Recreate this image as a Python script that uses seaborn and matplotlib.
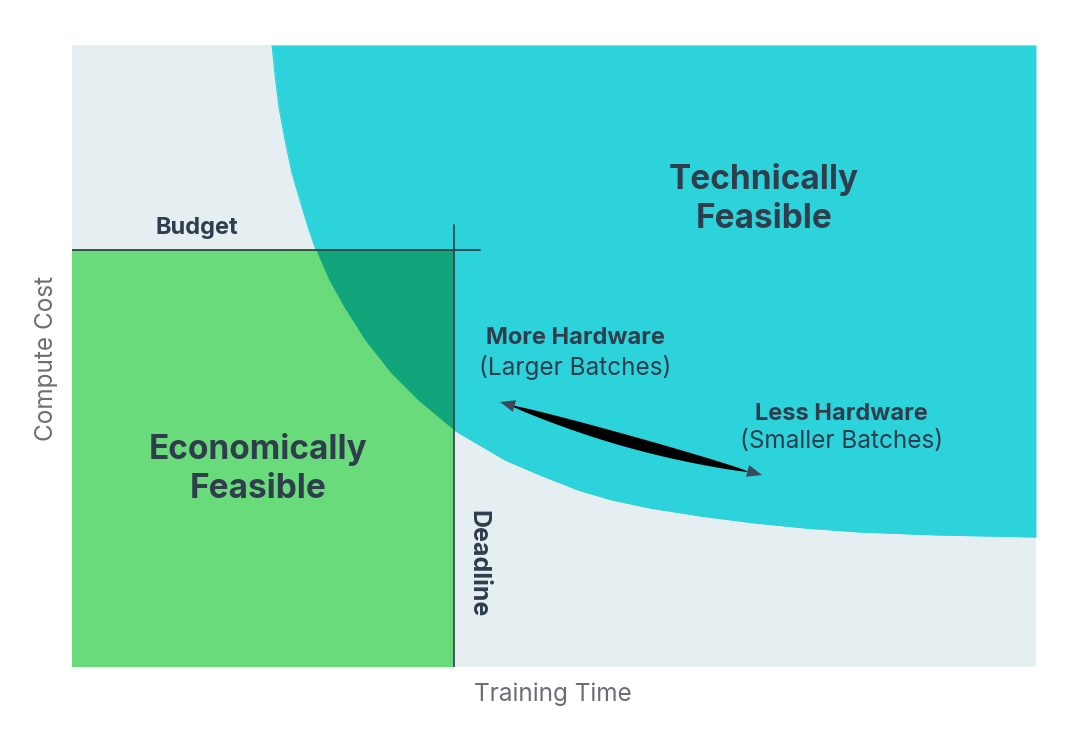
import numpy as np
import pandas as pd
import matplotlib.pyplot as plt
import seaborn as sns

# frontier of what is technically feasible (training time vs compute cost, 0-100 scale)
frontier_time = [20.75, 21.06, 21.47, 22.10, 22.82, 23.86, 24.59, 25.31, 26.66, 28.22, 30.39,
                 33.09, 35.89, 39.63, 44.92, 48.55, 52.49, 56.02, 59.96, 65.15, 70.85, 76.04,
                 81.74, 90.04, 100.0]
frontier_cost = [100.0, 95.18, 90.03, 84.73, 79.42, 73.95, 70.26, 67.04, 62.22, 57.88, 52.57,
                 47.27, 42.93, 38.10, 33.28, 30.87, 28.46, 26.85, 25.56, 24.28, 23.15, 22.35,
                 21.70, 21.22, 20.90]
budget = 67.04
deadline = 39.63

bg = "#e5eff1"
cyan = "#2dd3db"
green = "#6adb7b"
dark_green = "#12a47a"
ink = "#2f3d4c"
grey = "#6b6e76"

sns.set_theme(style="white")
plt.rcParams["font.family"] = ["Inter", "DejaVu Sans"]

df = pd.DataFrame({"time": frontier_time, "cost": frontier_cost})
fx = df["time"].values
fy = df["cost"].values

fig = plt.figure(figsize=(10.8, 7.47), dpi=100)
ax = fig.add_axes([72 / 1080, 80 / 747, 964 / 1080, 622 / 747])
ax.set_facecolor(bg)
ax.set_xlim(0, 100)
ax.set_ylim(0, 100)

# technically feasible region
ax.fill_between(fx, fy, 100, color=cyan, lw=0)
sns.lineplot(data=df, x="time", y="cost", color=cyan, lw=0.8, ax=ax, zorder=0.9)
# economically feasible region
ax.fill_between([0, deadline], [0, 0], [budget, budget], color=green, lw=0)
# both at once
ax.fill_between(fx, np.minimum(fy, budget), budget, where=fx <= deadline + 1e-9,
                color=dark_green, lw=0)

ax.plot([0, 42.3], [budget, budget], color="#27393a", lw=1.2)
ax.plot([deadline, deadline], [0, 71.1], color="#2e4046", lw=1.2)

for s in ax.spines.values():
    s.set_visible(False)
ax.set_xticks([])
ax.set_yticks([])
ax.set_xlabel("")
ax.set_ylabel("")

# curved double arrow (built in pixel units, converted to data units)
sx, sy = 100 / 964, 100 / 622
p0 = np.array([500.0, 402.0])
p1 = np.array([762.0, 475.0])
d = p1 - p0
L = np.hypot(*d)
u = d / L
n = np.array([-u[1], u[0]])  # points downward on screen
t = np.linspace(0.04, 0.95, 80)
centre = p0 + np.outer(t, d) + np.outer(3.5 * np.sin(np.pi * t), n)
w = 6 * np.sin(np.pi * (t - 0.04) / 0.91) ** 0.7
top = centre - np.outer(w, n)
bot = centre + np.outer(w, n)
poly = np.vstack([top, bot[::-1]])
ax.fill((poly[:, 0] - 72) * sx, (667 - poly[:, 1]) * sy, color="black", lw=0)
for tip, direc in [(p0, u), (p1, -u)]:
    base = tip + 15 * direc
    tri = np.array([tip, base + 6 * n, base - 6 * n])
    ax.fill((tri[:, 0] - 72) * sx, (667 - tri[:, 1]) * sy, color="#3c4859", lw=0)

# labels
big = dict(ha="center", va="center", fontsize=24, fontweight="bold", color=ink)
ax.text(71.8, 78.3, "Technically", **big)
ax.text(71.8, 72.0, "Feasible", **big)
ax.text(19.3, 35.0, "Economically", **big)
ax.text(19.3, 28.6, "Feasible", **big)
ax.text(12.9, 70.6, "Budget", ha="center", va="center", fontsize=17, fontweight="bold", color=ink)
ax.text(52.2, 52.9, "More Hardware", ha="center", va="center", fontsize=17, fontweight="bold", color=ink)
ax.text(52.2, 48.2, "(Larger Batches)", ha="center", va="center", fontsize=17.5, color=ink)
ax.text(79.8, 40.7, "Less Hardware", ha="center", va="center", fontsize=17, fontweight="bold", color=ink)
ax.text(79.8, 36.2, "(Smaller Batches)", ha="center", va="center", fontsize=17.5, color=ink)
ax.text(42.1, 16.7, "Deadline", ha="center", va="center", rotation=-90, fontsize=18, fontweight="bold", color=ink)

fig.text(553 / 1080, 1 - 694 / 747, "Training Time", ha="center", va="center", fontsize=17.5, color=grey)
fig.text(47 / 1080, 1 - 358 / 747, "Compute Cost", ha="center", va="center", rotation=90, fontsize=17.5, color=grey)

fig.savefig("out.png", dpi=100, facecolor="white")
